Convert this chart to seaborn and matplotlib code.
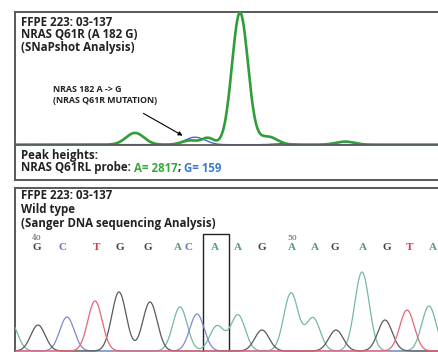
import numpy as np
import pandas as pd
import matplotlib
matplotlib.use("Agg")
import matplotlib.pyplot as plt
import seaborn as sns
from matplotlib.patches import Rectangle

# SNaPshot electropherogram peaks (scan position, height in RFU, width)
snap_green_pos = [135, 190, 208, 240, 268, 345]
snap_green_height = [250, 90, 140, 2817, 170, 65]
snap_green_width = [9, 8, 6, 8, 9, 9]
snap_blue_pos = [195, 283]
snap_blue_height = [159, 22]
snap_blue_width = [10, 9]

# Sanger trace: base calls 39..56 with peak position and height
sanger_bases = ["A", "G", "C", "T", "G", "G", "A", "C", "A", "A", "G",
                "A", "A", "G", "A", "G", "T", "A"]
sanger_pos = [10, 38, 67, 95, 119, 150, 180, 197, 217, 238, 262,
              291, 313, 336, 362, 385, 407, 429]
sanger_call_pos = [10, 37, 63, 97, 120, 148, 178, 189, 215, 238, 262,
                   292, 315, 335, 363, 387, 410, 433]
sanger_height = [30, 26, 34, 50, 59, 49, 44, 37, 25, 36, 21,
                 58, 33, 21, 79, 31, 41, 45]
first_base = 39

trace_col = {"A": "#74b9a0", "C": "#8088cf", "G": "#5a5a5a", "T": "#e2677a"}
call_col = {"A": "#4f9d74", "C": "#6a6fc4", "G": "#444444", "T": "#d8384c"}


def trace(x, pos, height, width):
    y = np.zeros_like(x)
    for p, h, w in zip(pos, height, width):
        y = y + h * np.exp(-(x - p) ** 2 / (2 * w ** 2))
    return y


W, H = 438, 352
fig = plt.figure(figsize=(W / 100, H / 100), dpi=100)
sns.set_style("white")
plt.rcParams["font.family"] = ["Open Sans", "DejaVu Sans"]


def box(l, t, r, b):
    return [l / W, 1 - b / H, (r - l) / W, (b - t) / H]


# ---- top panel: SNaPshot ----
frame1 = fig.add_axes(box(15, 12, 450, 180))
frame1.set_xticks([]); frame1.set_yticks([])
for s in frame1.spines.values():
    s.set_color("#5a5a5a"); s.set_linewidth(1.4)
frame1.set_facecolor("white")

ax1 = fig.add_axes(box(15, 12, 450, 145))
ax1.patch.set_alpha(0)
x = np.linspace(15, 450, 900)
df_snap = pd.DataFrame({
    "scan": np.concatenate([x, x]),
    "rfu": np.concatenate([trace(x, snap_blue_pos, snap_blue_height, snap_blue_width),
                           trace(x, snap_green_pos, snap_green_height, snap_green_width)]),
    "dye": ["G"] * len(x) + ["A"] * len(x),
})
sns.lineplot(data=df_snap[df_snap.dye == "G"], x="scan", y="rfu", color="#3b5cc4",
             lw=0.9, ax=ax1, legend=False)
sns.lineplot(data=df_snap[df_snap.dye == "A"], x="scan", y="rfu", color="#2f9e3a",
             lw=1.9, ax=ax1, legend=False)
ax1.set_xlim(15, 450)
ax1.set_ylim(-8, 2830)
ax1.set_xticks([]); ax1.set_yticks([])
ax1.set_xlabel(""); ax1.set_ylabel("")
for k in ["top", "left", "right"]:
    ax1.spines[k].set_visible(False)
ax1.spines["bottom"].set_color("#5a5a5a")
ax1.spines["bottom"].set_linewidth(1.3)

txt = dict(fontsize=8.3, fontweight="bold", color="#222222", va="center", ha="left")
fig.text(21 / W, 1 - 22 / H, "FFPE 223: 03-137", **txt)
fig.text(21 / W, 1 - 35 / H, "NRAS Q61R (A 182 G)", **txt)
fig.text(21 / W, 1 - 48 / H, "(SNaPshot Analysis)", **txt)

ann = dict(fontsize=6.4, fontweight="bold", color="#222222", va="center", ha="left")
fig.text(53 / W, 1 - 89 / H, "NRAS 182 A -> G", **ann)
fig.text(53 / W, 1 - 100 / H, "(NRAS Q61R MUTATION)", **ann)
ax1.annotate("", xy=(185 / W, 1 - 137 / H), xytext=(141 / W, 1 - 112 / H),
             xycoords="figure fraction", textcoords="figure fraction",
             arrowprops=dict(arrowstyle="-|>", color="black", lw=0.8,
                             mutation_scale=6))

fig.text(21 / W, 1 - 155 / H, "Peak heights:", **txt)
t = fig.text(21 / W, 1 - 168 / H, "NRAS Q61RL probe: ", **txt)
fig.canvas.draw()
r = fig.canvas.get_renderer()
bb = t.get_window_extent(r)
t2 = fig.text(bb.x1 / W, 1 - 168 / H, "A= 2817", **{**txt, "color": "#38a83a"})
bb2 = t2.get_window_extent(r)
t3 = fig.text(bb2.x1 / W, 1 - 168 / H, "; ", **txt)
bb3 = t3.get_window_extent(r)
fig.text(bb3.x1 / W, 1 - 168 / H, "G= 159", **{**txt, "color": "#3a7bd0"})

# ---- bottom panel: Sanger ----
frame2 = fig.add_axes(box(15, 188, 450, 370))
frame2.set_xticks([]); frame2.set_yticks([])
for s in frame2.spines.values():
    s.set_color("#5a5a5a"); s.set_linewidth(1.4)

fig.text(21 / W, 1 - 196 / H, "FFPE 223: 03-137", **txt)
fig.text(21 / W, 1 - 210 / H, "Wild type", **txt)
fig.text(21 / W, 1 - 224 / H, "(Sanger DNA sequencing Analysis)", **txt)

ax2 = fig.add_axes(box(15, 234, 450, 352))
ax2.patch.set_alpha(0)
xs = np.linspace(15, 450, 900)
rows = []
for b in "ACGT":
    idx = [i for i, c in enumerate(sanger_bases) if c == b]
    y = trace(xs, [sanger_pos[i] for i in idx], [sanger_height[i] for i in idx],
              [7.2] * len(idx))
    rows.append(pd.DataFrame({"scan": xs, "signal": y + 1.0, "base": b}))
df_sanger = pd.concat(rows)
sns.lineplot(data=df_sanger, x="scan", y="signal", hue="base", palette=trace_col,
             lw=0.9, ax=ax2, legend=False)
ax2.set_xlim(15, 450)
ax2.set_ylim(0, 118)
ax2.set_xticks([]); ax2.set_yticks([])
ax2.set_xlabel(""); ax2.set_ylabel("")
for s in ax2.spines.values():
    s.set_visible(False)

for i, (b, cx) in enumerate(zip(sanger_bases, sanger_call_pos)):
    if cx < 20:
        continue
    ax2.text(cx, 105, b, color=call_col[b], fontsize=8, fontweight="bold",
             ha="center", va="center", family=["Liberation Serif", "DejaVu Serif"])
    n = first_base + i
    if n % 10 == 0:
        ax2.text(cx, 114, str(n), color="#555555", fontsize=5.5, ha="center",
                 va="center", family=["DejaVu Serif"])

box_idx = sanger_bases.index("A", 8)
ax2.add_patch(Rectangle((sanger_call_pos[box_idx] - 12, -5), 26, 123, fill=False,
                        edgecolor="#222222", lw=1.0, clip_on=False))

fig.savefig("out.png", dpi=100)
